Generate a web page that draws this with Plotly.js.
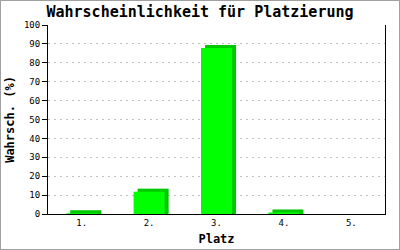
<!DOCTYPE html>
<html>
<head>
<meta charset="utf-8">
<script src="https://cdn.plot.ly/plotly-3.0.1.min.js"></script>
<style>
html,body{margin:0;padding:0;background:#fff;}
#chart{width:398px;height:248px;border:1px solid #a0a0a0;}
</style>
</head>
<body>
<div id="chart"></div>
<script>
const categories = ["1.", "2.", "3.", "4.", "5."];
const values = [0.4, 11.8, 87.8, 0.8, 0];
const depth = 1.6;

const front = values;
const back = values.map(v => v > 0 ? v + depth : 0);

const mono = "DejaVu Sans Mono, Liberation Mono, monospace";

const traces = [
  {type: "bar", x: categories, y: back, width: 0.46, offset: -0.17,
   marker: {color: "#00c800", line: {width: 0}}, hoverinfo: "skip"},
  {type: "bar", x: categories, y: front, width: 0.46, offset: -0.23,
   marker: {color: "#00ff00", line: {width: 0}}}
];

const layout = {
  width: 398, height: 248,
  margin: {l: 47, r: 14, t: 24, b: 35},
  barmode: "overlay",
  showlegend: false,
  paper_bgcolor: "#fff", plot_bgcolor: "#fff",
  title: {text: "Wahrscheinlichkeit für Platzierung",
          font: {family: mono, size: 15, color: "#000", weight: "bold"},
          x: 0.5, xanchor: "center", y: 0.955, yanchor: "middle"},
  xaxis: {type: "category", range: [-0.5, 4.5], showline: true, linecolor: "#000", linewidth: 1,
          ticks: "", showgrid: false, zeroline: false,
          tickfont: {family: mono, size: 9, color: "#000"},
          title: {text: "Platz", font: {family: mono, size: 12, color: "#000", weight: "bold"}, standoff: 7}},
  yaxis: {range: [0, 100], dtick: 10, showline: true, linecolor: "#000", linewidth: 1, mirror: true,
          ticks: "outside", ticklen: 5, tickcolor: "#000",
          showgrid: true, gridcolor: "#c0c0c0", griddash: "2px,4px", zeroline: false,
          tickfont: {family: mono, size: 9, color: "#000"},
          title: {text: "Wahrsch. (%)", font: {family: mono, size: 12, color: "#000", weight: "bold"}, standoff: 6}}
};

Plotly.newPlot("chart", traces, layout, {displayModeBar: false, staticPlot: true});
</script>
</body>
</html>
